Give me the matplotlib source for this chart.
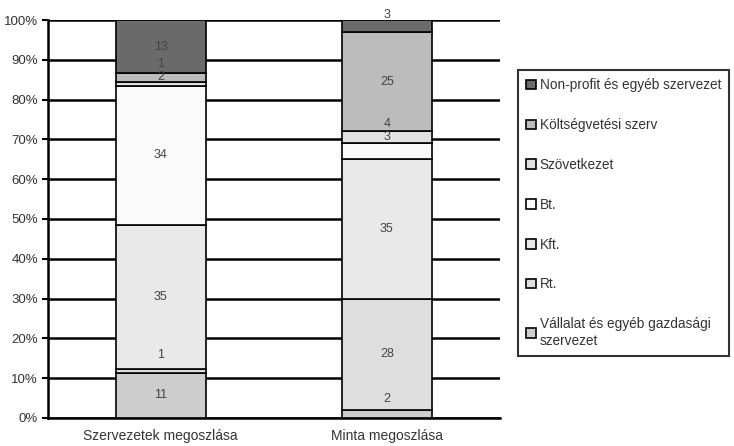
import matplotlib.pyplot as plt
import numpy as np

plt.rcParams['font.family'] = ['Liberation Sans', 'DejaVu Sans']

# categories and segment values (bottom to top of each stack)
categories = ['Szervezetek megoszlása', 'Minta megoszlása']
series = ['Vállalat és egyéb gazdasági\nszervezet', 'Rt.', 'Kft.', 'Bt.',
          'Szövetkezet', 'Költségvetési szerv', 'Non-profit és egyéb szervezet']
szervezetek = [11, 1, 35, 34, 1, 2, 13]
minta = [2, 28, 35, 4, 3, 25, 3]

colors = ['#cdcdcd', '#dedede', '#e9e9e9', '#fbfbfb', '#e2e2e2', '#bcbcbc', '#6a6a6a']

# small segments get their value label nudged upward (points)
label_shift = [
    {1: 11, 4: 14},
    {0: 11, 3: 20, 6: 8},
]

data = np.array([szervezetek, minta], dtype=float)
pct = data / data.sum(axis=1, keepdims=True)

fig = plt.figure(figsize=(7.34, 4.46), dpi=100)
ax = fig.add_axes([0.065, 0.063, 0.616, 0.892])

x = np.arange(len(categories))
bottom = np.zeros(len(categories))
handles = []
for i, name in enumerate(series):
    h = ax.bar(x, pct[:, i], bottom=bottom, width=0.4, color=colors[i],
               edgecolor='black', linewidth=1.2, label=name, zorder=3)
    handles.append(h)
    for j in range(len(categories)):
        yc = bottom[j] + pct[j, i] / 2
        dy = label_shift[j].get(i, 0)
        ax.annotate('%d' % data[j, i], (x[j], yc), xytext=(0, dy),
                    textcoords='offset points', ha='center', va='center',
                    fontsize=9, color='#444444', zorder=4)
    bottom += pct[:, i]

ax.set_xlim(-0.5, 1.5)
ax.set_ylim(0, 1)
ax.set_yticks(np.arange(0, 1.01, 0.1))
ax.set_yticklabels(['%d%%' % v for v in range(0, 101, 10)])
ax.set_xticks(x)
ax.set_xticklabels(categories)
ax.tick_params(axis='y', length=4, width=1.5, color='black', labelsize=9.5,
               labelcolor='#333333', pad=3)
ax.tick_params(axis='x', length=0, labelsize=10, labelcolor='#333333', pad=8)

ax.yaxis.grid(True, color='black', linewidth=1.8, zorder=0)
ax.set_axisbelow(True)
for side in ['top', 'right']:
    ax.spines[side].set_visible(False)
for side in ['left', 'bottom']:
    ax.spines[side].set_linewidth(1.8)
    ax.spines[side].set_color('black')

leg = fig.legend(handles[::-1], series[::-1], loc='upper left',
                 bbox_to_anchor=(518 / 734, 1 - 70 / 446), fontsize=9.8,
                 frameon=True, fancybox=False, handlelength=0.7,
                 handleheight=0.7, handletextpad=0.3, labelspacing=1.9,
                 borderpad=0.6, borderaxespad=0)
leg.get_frame().set_edgecolor('black')
leg.get_frame().set_linewidth(1.5)
for t in leg.get_texts():
    t.set_color('#333333')

fig.savefig('out.png', dpi=100)
